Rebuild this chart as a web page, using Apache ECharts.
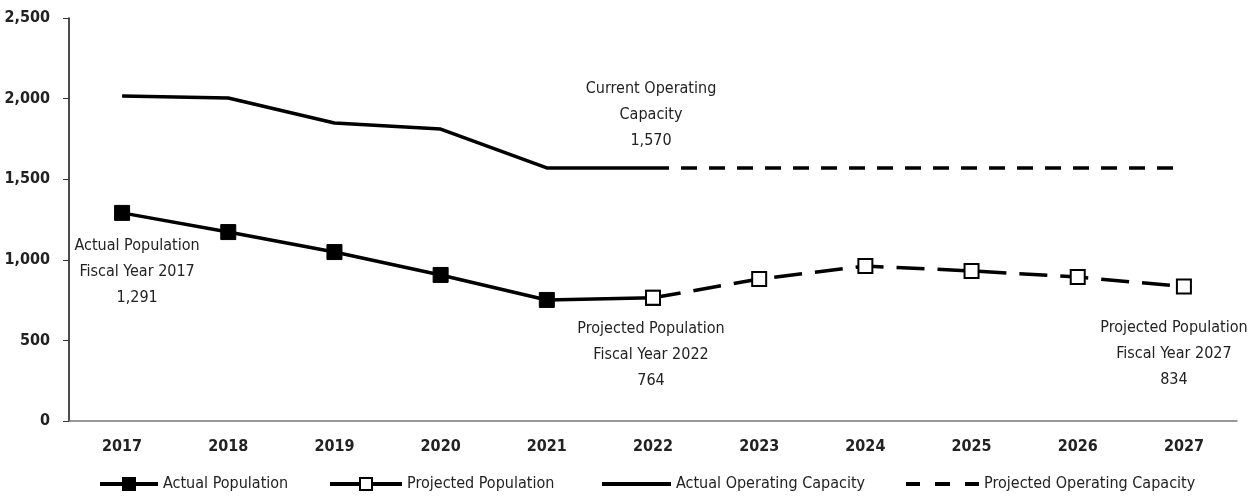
<!DOCTYPE html>
<html>
<head>
<meta charset="utf-8">
<script src="https://cdn.jsdelivr.net/npm/echarts@6/dist/echarts.min.js"></script>
<style>
  html, body { margin: 0; padding: 0; background: #fff; }
  #chart { width: 1259px; height: 498px; }
</style>
</head>
<body>
<div id="chart"></div>
<script>
  // 数据
  var years = ['2017', '2018', '2019', '2020', '2021', '2022', '2023', '2024', '2025', '2026', '2027']
  var actualPopulation = [1291, 1172, 1048, 906, 751, 764, null, null, null, null, null]
  var projectedPopulation = [null, null, null, null, null, 764, 881, 961, 931, 893, 834]
  var actualCapacity = [2016, 2004, 1849, 1811, 1570, 1570, null, null, null, null, null]
  var projectedCapacity = [null, null, null, null, null, 1570, 1570, 1570, 1570, 1570, 1570]
  var yTicks = [0, 500, 1000, 1500, 2000, 2500]

  var font = '"Liberation Sans Narrow", "DejaVu Sans Condensed", sans-serif'
  var textColor = '#222'

  var noteStyle = {
    show: true,
    fontFamily: font,
    fontSize: 16,
    color: textColor,
    lineHeight: 26,
    align: 'center'
  }

  function withNote (arr, idx, text, pos, dist, offset, extra) {
    return arr.map(function (v, i) {
      if (i !== idx) return v
      return Object.assign({
        value: v,
        label: Object.assign({}, noteStyle, {
          position: pos,
          distance: dist,
          offset: offset || [0, 0],
          formatter: text
        })
      }, extra || {})
    })
  }

  // 图例图标
  var iconActualPop = 'path://M0,5H58V9H0Z M22,0H36V14H22Z'
  var iconProjPop = 'path://M0,5H29V9H0Z M43,5H72V9H43Z M29,0H43V14H29Z M31,2V12H41V2Z'
  var iconActualCap = 'path://M0,0H69V4H0Z'
  var iconProjCap = 'path://M0,0H14V4H0Z M29,0H44V4H29Z M59,0H73V4H59Z'

  function legendItem (name, icon, left, w, h) {
    return {
      left: left,
      top: 476,
      padding: 0,
      itemWidth: w,
      itemHeight: h,
      itemGap: 7,
      icon: icon,
      itemStyle: { color: '#000', borderColor: '#000', borderWidth: 0 },
      textStyle: { fontFamily: font, fontSize: 16, color: textColor },
      data: [{ name: name, icon: icon }]
    }
  }

  var chart = echarts.init(document.getElementById('chart'))
  chart.setOption({
    animation: false,
    grid: { left: 69, right: 22, top: 18, bottom: 77 },
    legend: [
      legendItem('Actual Population', iconActualPop, 100, 58, 14),
      legendItem('Projected Population', iconProjPop, 330, 72, 14),
      legendItem('Actual Operating Capacity', iconActualCap, 602, 69, 4),
      legendItem('Projected Operating Capacity', iconProjCap, 906, 73, 4)
    ],
    xAxis: {
      type: 'category',
      data: years,
      axisLine: { lineStyle: { color: '#777', width: 1.5 } },
      axisTick: { length: 6, lineStyle: { color: '#333' } },
      axisLabel: { fontFamily: font, fontSize: 16, fontWeight: 'bold', color: textColor, margin: 18 }
    },
    yAxis: {
      type: 'value',
      min: 0,
      max: 2500,
      interval: 500,
      splitLine: { show: false },
      axisLine: { show: true, lineStyle: { color: '#111', width: 1.5 } },
      axisTick: { show: true, length: 6, lineStyle: { color: '#333' } },
      axisLabel: {
        fontFamily: font, fontSize: 16, fontWeight: 'bold', color: textColor, margin: 19,
        formatter: function (v) { return yTicks.indexOf(v) >= 0 ? v.toLocaleString('en-US') : '' }
      }
    },
    series: [
      {
        name: 'Actual Operating Capacity',
        type: 'line',
        data: withNote(actualCapacity, 5, 'Current Operating\nCapacity\n1,570', 'top', 14, [-2, 0],
          { symbol: 'circle', symbolSize: 1 }),
        symbol: 'none',
        lineStyle: { color: '#000', width: 3.5 },
        itemStyle: { color: '#000' },
        z: 2
      },
      {
        name: 'Projected Operating Capacity',
        type: 'line',
        data: projectedCapacity,
        symbol: 'none',
        lineStyle: { color: '#000', width: 3.5, type: [16, 12] },
        itemStyle: { color: '#000' },
        z: 2
      },
      {
        name: 'Actual Population',
        type: 'line',
        data: withNote(actualPopulation, 0, 'Actual Population\nFiscal Year 2017\n1,291', 'bottom', 12, [15, 0]),
        symbol: 'rect',
        symbolSize: 15,
        lineStyle: { color: '#000', width: 3.5 },
        itemStyle: { color: '#000', borderColor: '#000' },
        z: 3
      },
      {
        name: 'Projected Population',
        type: 'line',
        data: withNote(withNote(projectedPopulation, 5, 'Projected Population\nFiscal Year 2022\n764', 'bottom', 10, [-2, 0]),
          10, 'Projected Population\nFiscal Year 2027\n834', 'bottom', 20, [-10, 0]),
        symbol: 'rect',
        symbolSize: 14,
        showAllSymbol: true,
        lineStyle: { color: '#000', width: 3.5, type: [28, 13] },
        itemStyle: { color: '#fff', borderColor: '#000', borderWidth: 2 },
        z: 4
      }
    ]
  })
</script>
</body>
</html>
